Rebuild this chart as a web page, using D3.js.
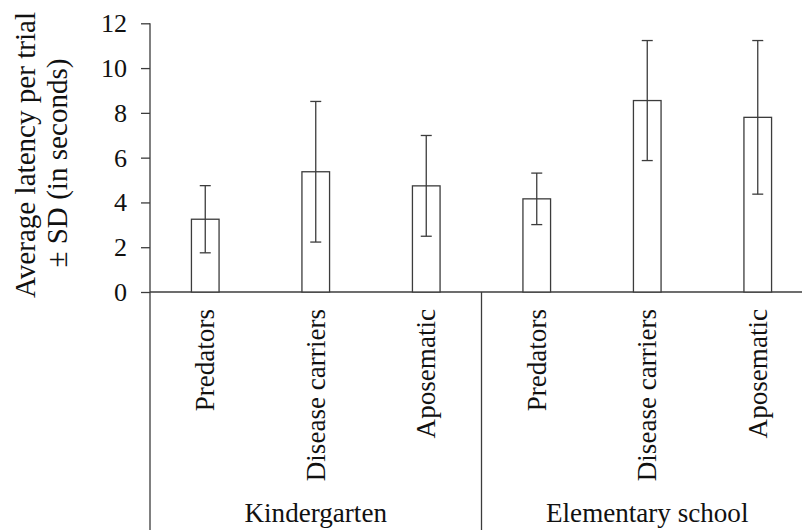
<!DOCTYPE html>
<html>
<head>
<meta charset="utf-8">
<script src="https://cdn.jsdelivr.net/npm/d3@7"></script>
<style>
  html, body { margin: 0; padding: 0; background: #fff; }
  svg { display: block; }
</style>
</head>
<body>
<svg id="chart" width="802" height="530"></svg>
<script>
const groups = ["Kindergarten", "Elementary school"];
const categories = ["Predators", "Disease carriers", "Aposematic"];
const means = [3.25, 5.37, 4.74, 4.16, 8.55, 7.80];
const sds = [1.50, 3.14, 2.25, 1.15, 2.68, 3.43];
const yTicks = [0, 2, 4, 6, 8, 10, 12];
const titleLines = ["Average latency per trial", "± SD (in seconds)"];

// pick the first installed serif face
const ctx = document.createElement("canvas").getContext("2d");
function has(f) {
  const s = "Kindergarten Disease carriers 0123456789";
  return ["monospace", "sans-serif"].some(b => {
    ctx.font = `100px ${b}`; const w0 = ctx.measureText(s).width;
    ctx.font = `100px "${f}", ${b}`; const w1 = ctx.measureText(s).width;
    return Math.abs(w1 - w0) > 0.5;
  });
}
const candidates = ["Liberation Serif", "Tinos", "Times New Roman", "Nimbus Roman", "Nimbus Roman No9 L", "Noto Serif", "DejaVu Serif"];
const face = candidates.find(has) || "serif";
const family = `"${face}", serif`;
ctx.font = `100px ${family}`;
// Times-metric width of "Kindergarten" is 5.276 em
const k = 527.6 / ctx.measureText("Kindergarten").width;
const fs = s => `${(s * k).toFixed(2)}px`;

const rows = [];
groups.forEach((g, gi) => categories.forEach((c, ci) => {
  const i = gi * categories.length + ci;
  rows.push({ id: i, group: g, cat: c, mean: means[i], sd: sds[i] });
}));

const svg = d3.select("#chart");
const lineColor = "#3c3c3c";
const textColor = "#111";
const plotLeft = 150, plotRight = 813, plotTop = 23.3, plotBottom = 292, plotFloor = 530;

const x = d3.scaleBand().domain(rows.map(d => d.id)).range([plotLeft, plotRight]).padding(0);
const y = d3.scaleLinear().domain([0, 12]).range([plotBottom, plotTop]);
const gx = d3.scaleBand().domain(groups).range([plotLeft, plotRight]).padding(0);
const barW = x.bandwidth() * 0.25;

// Y axis
const yAxis = svg.append("g")
  .attr("transform", `translate(${plotLeft},0)`)
  .call(d3.axisLeft(y).tickValues(yTicks).tickSize(9).tickSizeOuter(0).tickPadding(14));
yAxis.attr("font-family", null).attr("font-size", null);
yAxis.select(".domain").remove();
yAxis.selectAll(".tick line").attr("stroke", lineColor).attr("stroke-width", 1.3);
yAxis.selectAll(".tick text").attr("fill", textColor)
  .style("font-family", family).style("font-size", fs(26));

// vertical axis line extending down through category area
svg.append("line").attr("x1", plotLeft).attr("x2", plotLeft).attr("y1", y(12)).attr("y2", plotFloor)
  .attr("stroke", lineColor).attr("stroke-width", 1.3);
// baseline
svg.append("line").attr("x1", plotLeft).attr("x2", plotRight).attr("y1", y(0)).attr("y2", y(0))
  .attr("stroke", lineColor).attr("stroke-width", 1.3);
// group separators
groups.forEach((g, i) => {
  if (i === 0) return;
  svg.append("line").attr("x1", gx(g)).attr("x2", gx(g)).attr("y1", y(0)).attr("y2", plotFloor)
    .attr("stroke", lineColor).attr("stroke-width", 1.3);
});

// bars
svg.append("g").selectAll("rect").data(rows).join("rect")
  .attr("x", d => x(d.id) + x.bandwidth() / 2 - barW / 2)
  .attr("width", barW)
  .attr("y", d => y(d.mean))
  .attr("height", d => y(0) - y(d.mean))
  .attr("fill", "#fff").attr("stroke", lineColor).attr("stroke-width", 1.3);

// error bars
const eb = svg.append("g").attr("stroke", lineColor).attr("stroke-width", 1.3);
const cap = 5.5;
rows.forEach(d => {
  const cx = x(d.id) + x.bandwidth() / 2;
  eb.append("line").attr("x1", cx).attr("x2", cx).attr("y1", y(d.mean + d.sd)).attr("y2", y(d.mean - d.sd));
  eb.append("line").attr("x1", cx - cap).attr("x2", cx + cap).attr("y1", y(d.mean + d.sd)).attr("y2", y(d.mean + d.sd));
  eb.append("line").attr("x1", cx - cap).attr("x2", cx + cap).attr("y1", y(d.mean - d.sd)).attr("y2", y(d.mean - d.sd));
});

// category labels (rotated)
svg.append("g").selectAll("text").data(rows).join("text")
  .attr("transform", d => `translate(${x(d.id) + x.bandwidth() / 2},309) rotate(-90)`)
  .attr("text-anchor", "end")
  .attr("dy", "0.34em")
  .attr("fill", textColor)
  .style("font-family", family).style("font-size", fs(27))
  .text(d => d.cat);

// group labels
svg.append("g").selectAll("text").data(groups).join("text")
  .attr("x", d => gx(d) + gx.bandwidth() / 2)
  .attr("y", 522)
  .attr("text-anchor", "middle")
  .attr("fill", textColor)
  .style("font-family", family).style("font-size", fs(27))
  .text(d => d);

// y axis title
svg.append("g").selectAll("text").data(titleLines).join("text")
  .attr("transform", (d, i) => `translate(${35 + i * 32},${i === 0 ? 155 : 163}) rotate(-90)`)
  .attr("text-anchor", "middle")
  .attr("fill", textColor)
  .style("font-family", family).style("font-size", fs(29))
  .text(d => d);
</script>
</body>
</html>
